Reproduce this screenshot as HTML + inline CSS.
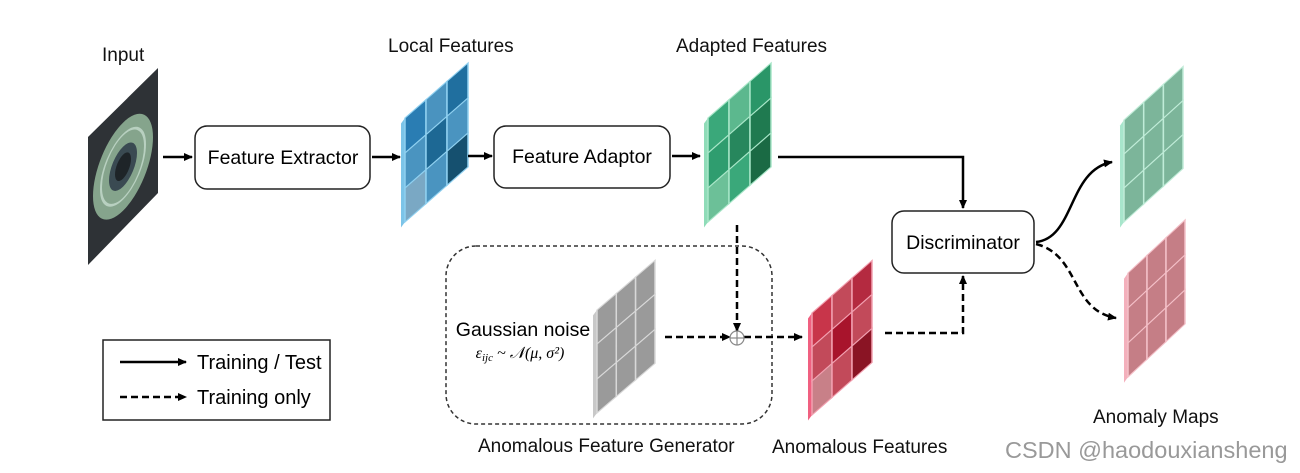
<!DOCTYPE html>
<html><head><meta charset="utf-8"><style>
body{margin:0;background:#fff;}
svg{display:block;font-family:"Liberation Sans",Arial,sans-serif;}
</style></head><body>
<svg width="1300" height="473" viewBox="0 0 1300 473" xmlns="http://www.w3.org/2000/svg">
<defs>
<marker id="ah" markerWidth="10" markerHeight="10" refX="8" refY="5" orient="auto" markerUnits="userSpaceOnUse"><path d="M0,1 L9,5 L0,9 z" fill="#000"/></marker>
</defs>
<rect width="1300" height="473" fill="#fff"/>
<g font-size="19" fill="#111">
<text x="102" y="61">Input</text>
<text x="388" y="52">Local Features</text>
<text x="676" y="52">Adapted Features</text>
<text x="478" y="452">Anomalous Feature Generator</text>
<text x="772" y="453">Anomalous Features</text>
<text x="1093" y="423">Anomaly Maps</text>
</g>
<text x="1005" y="458" font-size="23.5" fill="#999">CSDN @haodouxiansheng</text>

<polygon points="88,137 158,68 158,193 88,265" fill="#2e3236"/>
<g transform="matrix(1,-0.98,0,1,88,137)">
<ellipse cx="35" cy="64" rx="30" ry="44" fill="#8fb096" opacity="0.9"/>
<ellipse cx="35" cy="64" rx="22" ry="32" fill="none" stroke="#b8d0c0" stroke-width="2"/>
<ellipse cx="35" cy="64" rx="14" ry="20" fill="#3a4a52"/>
<ellipse cx="35" cy="64" rx="8" ry="12" fill="#1e2428"/>
</g>

<rect x="195" y="126" width="175" height="63" rx="12" fill="#fff" stroke="#222" stroke-width="1.5"/>
<text x="283" y="164" font-size="19.5" text-anchor="middle">Feature Extractor</text>
<rect x="494" y="126" width="176" height="62" rx="12" fill="#fff" stroke="#222" stroke-width="1.5"/>
<text x="582" y="163" font-size="19.5" text-anchor="middle">Feature Adaptor</text>
<rect x="892" y="211" width="142" height="62" rx="12" fill="#fff" stroke="#222" stroke-width="1.5"/>
<text x="963" y="249" font-size="19.5" text-anchor="middle">Discriminator</text>
<rect x="446" y="246" width="326" height="178" rx="30" fill="none" stroke="#333" stroke-width="1.5" stroke-dasharray="4,3"/>
<text x="523" y="336" font-size="19.5" text-anchor="middle">Gaussian noise</text>
<text x="520" y="358" font-size="16" font-style="italic" font-family="Liberation Serif,serif" text-anchor="middle">ε<tspan font-size="11" dy="3">ijc</tspan><tspan dy="-3"> ~ 𝒩(μ, σ²)</tspan></text>

<rect x="103" y="340" width="227" height="80" fill="#fff" stroke="#222" stroke-width="1.5"/>
<line x1="120" y1="362" x2="186" y2="362" stroke="#000" stroke-width="2.5" marker-end="url(#ah)"/>
<text x="197" y="369" font-size="20">Training / Test</text>
<line x1="120" y1="397" x2="186" y2="397" stroke="#000" stroke-width="2.5" stroke-dasharray="7,4" marker-end="url(#ah)"/>
<text x="197" y="404" font-size="20">Training only</text>

<g transform="matrix(1,-0.873,0,1,405,118)" stroke="#8fd0f0" stroke-width="1.5">
<polygon points="-4,2 0,0 0,104 -4,106" fill="#7cc4e8" stroke="none"/>
<rect x="0" y="0" width="21" height="35" fill="#2a7db3"/><rect x="21" y="0" width="21" height="35" fill="#4a93bf"/><rect x="42" y="0" width="21" height="35" fill="#206f9f"/>
<rect x="0" y="35" width="21" height="35" fill="#4a94c0"/><rect x="21" y="35" width="21" height="35" fill="#1d6894"/><rect x="42" y="35" width="21" height="35" fill="#4a94c0"/>
<rect x="0" y="70" width="21" height="34" fill="#7aa8c4"/><rect x="21" y="70" width="21" height="34" fill="#4a94c0"/><rect x="42" y="70" width="21" height="34" fill="#15506f"/>
</g>
<g transform="matrix(1,-0.873,0,1,708,118)" stroke="#a8e6c8" stroke-width="1.5">
<polygon points="-4,2 0,0 0,104 -4,106" fill="#8fdcb8" stroke="none"/>
<rect x="0" y="0" width="21" height="35" fill="#3aa87a"/><rect x="21" y="0" width="21" height="35" fill="#5cb88e"/><rect x="42" y="0" width="21" height="35" fill="#2a9668"/>
<rect x="0" y="35" width="21" height="35" fill="#2f9d6f"/><rect x="21" y="35" width="21" height="35" fill="#27875d"/><rect x="42" y="35" width="21" height="35" fill="#1f7a50"/>
<rect x="0" y="70" width="21" height="34" fill="#6cc098"/><rect x="21" y="70" width="21" height="34" fill="#3aa87a"/><rect x="42" y="70" width="21" height="34" fill="#1a6a44"/>
</g>
<g transform="matrix(1,-0.855,0,1,597,310)" stroke="#d8d8d8" stroke-width="1.5">
<polygon points="-4,2 0,0 0,103 -4,105" fill="#c8c8c8" stroke="none"/>
<rect x="0" y="0" width="19.3" height="34" fill="#9a9a9a"/><rect x="19.3" y="0" width="19.3" height="34" fill="#9a9a9a"/><rect x="38.6" y="0" width="19.4" height="34" fill="#9a9a9a"/>
<rect x="0" y="34" width="19.3" height="35" fill="#9a9a9a"/><rect x="19.3" y="34" width="19.3" height="35" fill="#9a9a9a"/><rect x="38.6" y="34" width="19.4" height="35" fill="#9a9a9a"/>
<rect x="0" y="69" width="19.3" height="34" fill="#9a9a9a"/><rect x="19.3" y="69" width="19.3" height="34" fill="#9a9a9a"/><rect x="38.6" y="69" width="19.4" height="34" fill="#9a9a9a"/>
</g>
<g transform="matrix(1,-0.875,0,1,812,313)" stroke="#f2a0b0" stroke-width="1.5">
<polygon points="-4,2 0,0 0,102 -4,104" fill="#f06080" stroke="none"/>
<rect x="0" y="0" width="20" height="34" fill="#c8354a"/><rect x="20" y="0" width="20" height="34" fill="#c24a5a"/><rect x="40" y="0" width="20" height="34" fill="#b42a40"/>
<rect x="0" y="34" width="20" height="34" fill="#c24a5a"/><rect x="20" y="34" width="20" height="34" fill="#a8142c"/><rect x="40" y="34" width="20" height="34" fill="#c24a5a"/>
<rect x="0" y="68" width="20" height="34" fill="#c88088"/><rect x="20" y="68" width="20" height="34" fill="#c24a5a"/><rect x="40" y="68" width="20" height="34" fill="#8a1424"/>
</g>
<g transform="matrix(1,-0.905,0,1,1124,120)" stroke="#c0ecd8" stroke-width="1.5">
<polygon points="-4,2 0,0 0,102 -4,104" fill="#a8e6cc" stroke="none"/>
<rect x="0" y="0" width="19.7" height="34" fill="#7cb59a"/><rect x="19.7" y="0" width="19.7" height="34" fill="#7cb59a"/><rect x="39.4" y="0" width="19.6" height="34" fill="#7cb59a"/>
<rect x="0" y="34" width="19.7" height="34" fill="#7cb59a"/><rect x="19.7" y="34" width="19.7" height="34" fill="#7cb59a"/><rect x="39.4" y="34" width="19.6" height="34" fill="#7cb59a"/>
<rect x="0" y="68" width="19.7" height="34" fill="#7cb59a"/><rect x="19.7" y="68" width="19.7" height="34" fill="#7cb59a"/><rect x="39.4" y="68" width="19.6" height="34" fill="#7cb59a"/>
</g>
<g transform="matrix(1,-0.93,0,1,1128,273)" stroke="#f4c0c8" stroke-width="1.5">
<polygon points="-4,2 0,0 0,104 -4,106" fill="#f4b0bc" stroke="none"/>
<rect x="0" y="0" width="19" height="35" fill="#c57e86"/><rect x="19" y="0" width="19" height="35" fill="#c57e86"/><rect x="38" y="0" width="19" height="35" fill="#c57e86"/>
<rect x="0" y="35" width="19" height="35" fill="#c57e86"/><rect x="19" y="35" width="19" height="35" fill="#c57e86"/><rect x="38" y="35" width="19" height="35" fill="#c57e86"/>
<rect x="0" y="70" width="19" height="34" fill="#c57e86"/><rect x="19" y="70" width="19" height="34" fill="#c57e86"/><rect x="38" y="70" width="19" height="34" fill="#c57e86"/>
</g>

<g stroke="#000" stroke-width="2.5" fill="none">
<line x1="163" y1="157" x2="192" y2="157" marker-end="url(#ah)"/>
<line x1="372" y1="157" x2="400" y2="157" marker-end="url(#ah)"/>
<line x1="468" y1="156" x2="492" y2="156" marker-end="url(#ah)"/>
<line x1="672" y1="156" x2="700" y2="156" marker-end="url(#ah)"/>
<polyline points="778,157 963,157 963,208" marker-end="url(#ah)"/>
<line x1="737" y1="225" x2="737" y2="331" stroke-dasharray="7,4" marker-end="url(#ah)"/>
<line x1="665" y1="337" x2="730" y2="337" stroke-dasharray="7,4" marker-end="url(#ah)"/>
<line x1="744" y1="337" x2="802" y2="337" stroke-dasharray="7,4" marker-end="url(#ah)"/>
<polyline points="885,333 963,333 963,276" stroke-dasharray="7,4" marker-end="url(#ah)"/>
<path d="M1036,242 C1075,238 1068,170 1112,162" marker-end="url(#ah)"/>
<path d="M1036,244 C1080,255 1070,310 1116,318" stroke-dasharray="7,4" marker-end="url(#ah)"/>
</g>
<circle cx="737" cy="338" r="7" fill="#fff" stroke="#888" stroke-width="1.2"/>
<line x1="730" y1="338" x2="744" y2="338" stroke="#888" stroke-width="1.2"/>
<line x1="737" y1="331" x2="737" y2="345" stroke="#888" stroke-width="1.2"/>
</svg>
</body></html>
